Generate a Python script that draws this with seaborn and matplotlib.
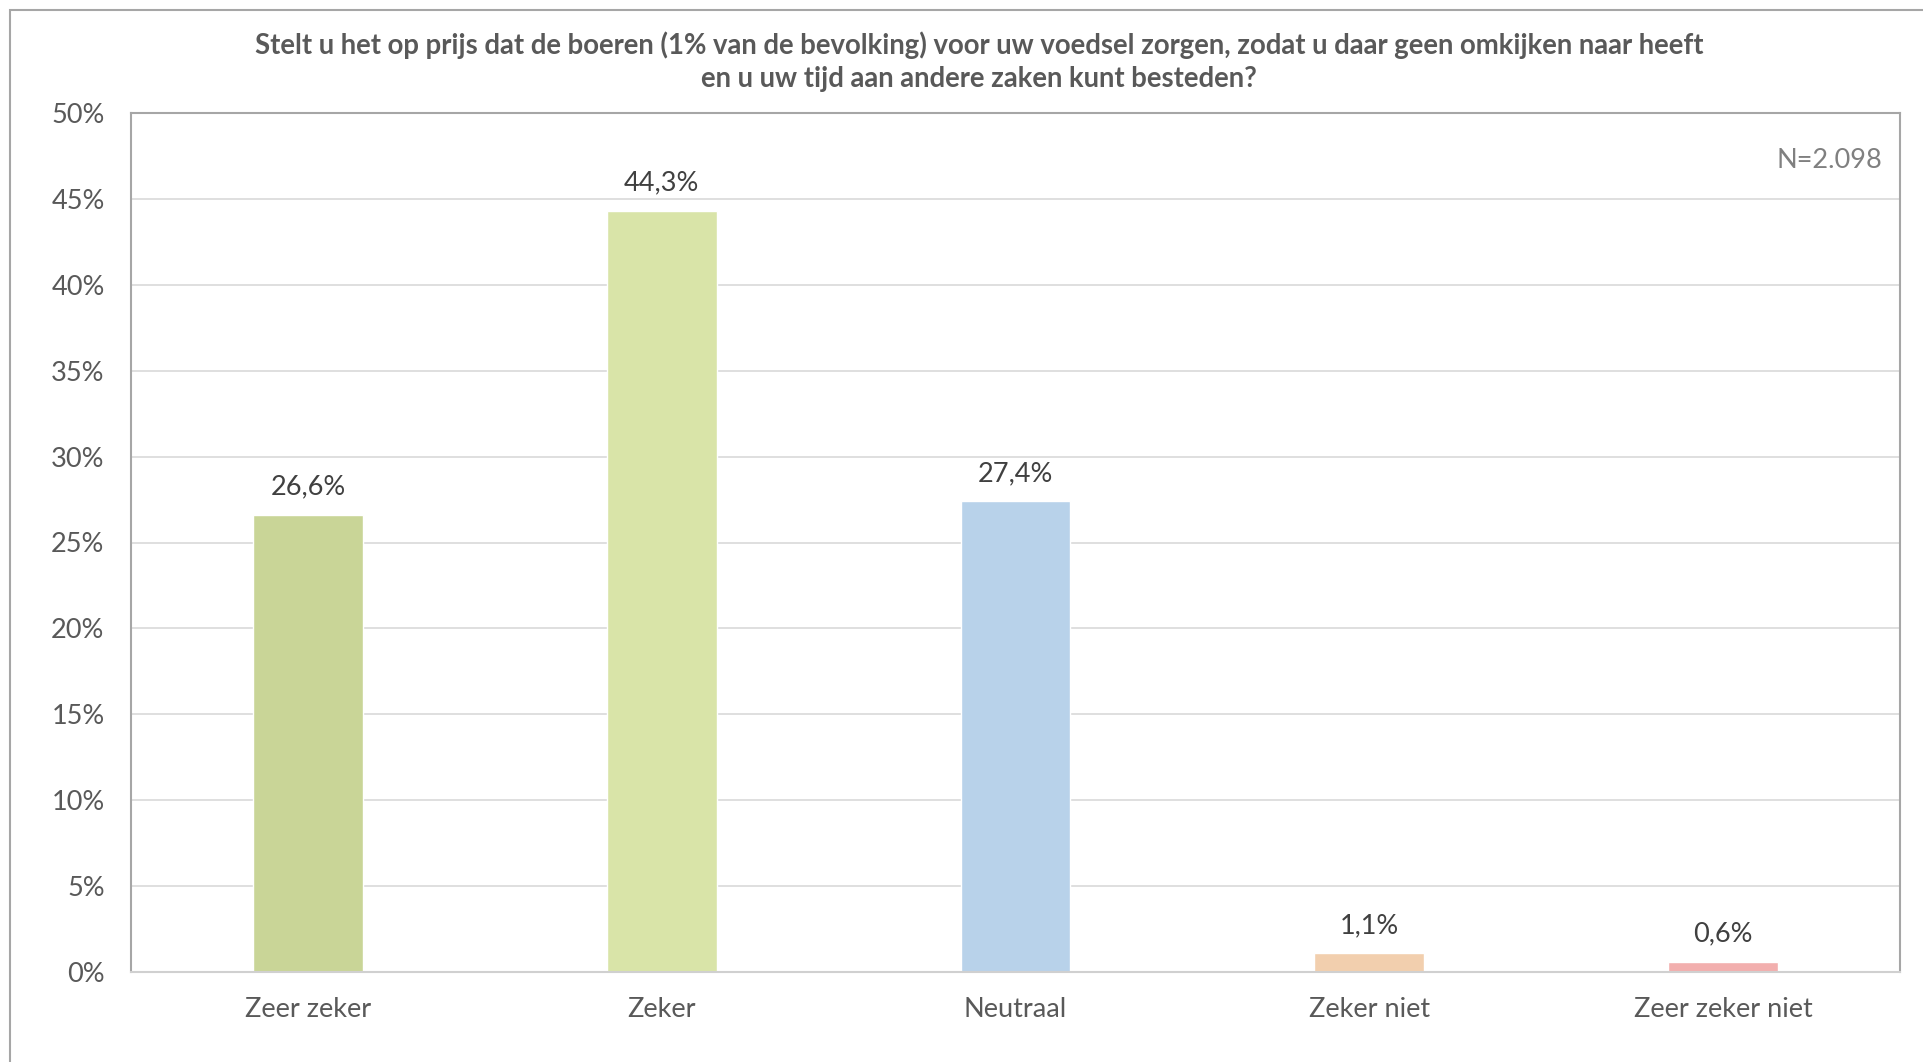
import matplotlib
matplotlib.use("Agg")
import matplotlib.pyplot as plt
import seaborn as sns
import pandas as pd
from matplotlib.patches import Rectangle
from matplotlib.ticker import MultipleLocator, FuncFormatter

categories = ["Zeer zeker", "Zeker", "Neutraal", "Zeker niet", "Zeer zeker niet"]
values = [26.6, 44.3, 27.4, 1.1, 0.6]
colors = ["#C9D597", "#D9E4A8", "#B8D2EA", "#F2CFAE", "#F2AFAE"]
title = ("Stelt u het op prijs dat de boeren (1% van de bevolking) voor uw voedsel zorgen, zodat u daar geen omkijken naar heeft\n"
         "en u uw tijd aan andere zaken kunt besteden?")
note = "N=2.098"

sns.set_theme(style="white")
plt.rcParams['font.family'] = ['Lato', 'DejaVu Sans']

W, H = 1924, 1062
fig = plt.figure(figsize=(W / 100, H / 100), dpi=100)
ax = fig.add_axes([131 / W, 1 - 972 / H, (1900 - 131) / W, (972 - 113) / H])

df = pd.DataFrame({"cat": categories, "val": values})
sns.barplot(data=df, x="cat", y="val", hue="cat", palette=colors, width=0.31,
            dodge=False, legend=False, ax=ax, saturation=1)

ax.set_ylim(0, 50)
ax.set_xlim(-0.5, len(categories) - 0.5)
ax.yaxis.set_major_locator(MultipleLocator(5))
ax.yaxis.set_major_formatter(FuncFormatter(lambda v, p: f"{int(v)}%"))
ax.grid(axis="y", color="#D9D9D9", linewidth=1.2)
ax.set_axisbelow(True)
ax.set_xlabel("")
ax.set_ylabel("")
for s in ["left", "top", "right"]:
    ax.spines[s].set_visible(True)
    ax.spines[s].set_color("#A6A6A6")
    ax.spines[s].set_linewidth(1.5)
ax.spines["bottom"].set_color("#D0D0D0")
ax.spines["bottom"].set_linewidth(1.5)
ax.tick_params(axis="y", labelsize=19.5, labelcolor="#595959", length=0, pad=19)
ax.tick_params(axis="x", labelsize=19.5, labelcolor="#595959", length=0, pad=18)

for cont in ax.containers:
    labels = [f"{v:.1f}".replace(".", ",") + "%" for v in cont.datavalues]
    ax.bar_label(cont, labels=labels, padding=11, fontsize=19.5, color="#404040")

ax.text(0.99, 0.945, note, transform=ax.transAxes, ha="right", va="center",
        fontsize=19.5, color="#808080")

fig.text(979 / W, 1 - 62 / H, title, ha="center", va="center", fontsize=19.8,
         fontweight="bold", color="#595959", linespacing=1.35)

fig.patches.append(Rectangle((10 / W, -0.05), (W + 40) / W, 1 - 10 / H + 0.05,
                             transform=fig.transFigure, fill=False,
                             edgecolor="#A6A6A6", linewidth=1.5))

fig.savefig("out.png", dpi=100, facecolor="white")
